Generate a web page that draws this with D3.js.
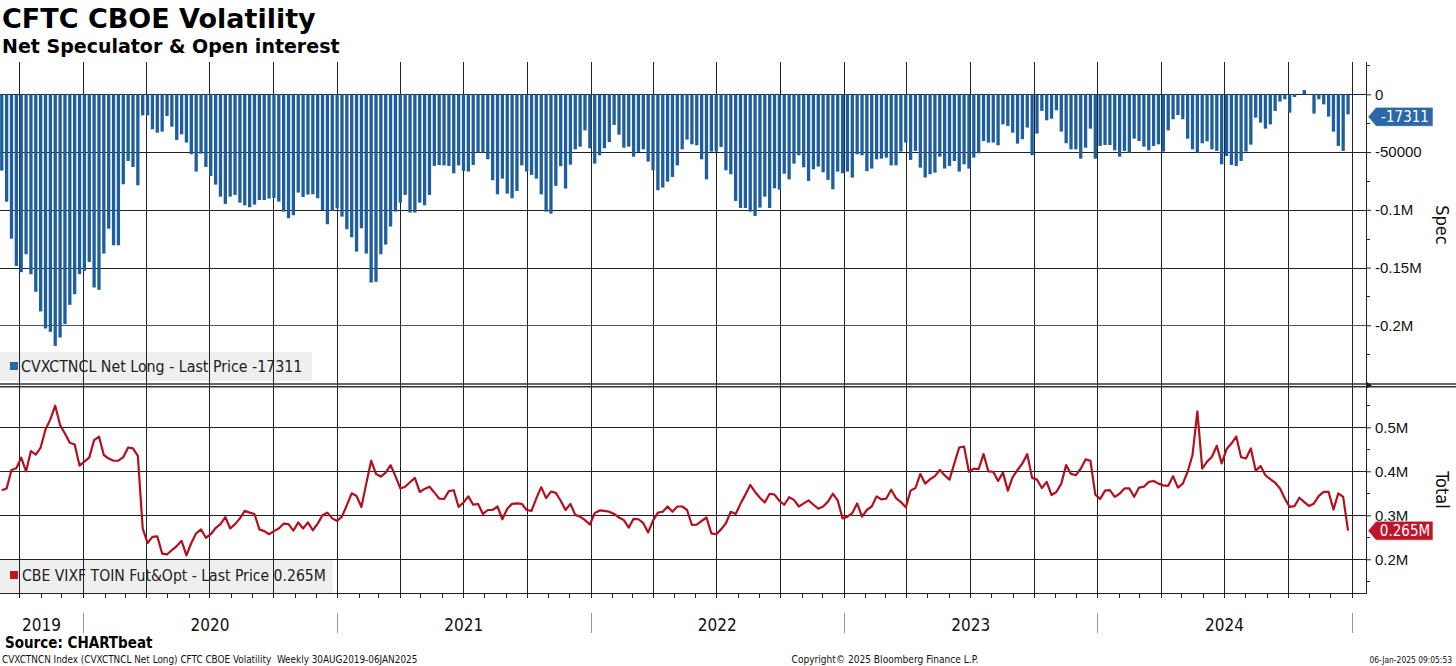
<!DOCTYPE html>
<html>
<head>
<meta charset="utf-8">
<script src="https://cdn.jsdelivr.net/npm/d3@7"></script>
<style>
  body { margin: 0; background: #fff; }
  svg { display: block; font-family: "DejaVu Sans Condensed", "DejaVu Sans", sans-serif; }
</style>
</head>
<body>
<svg id="chart" width="1456" height="666"></svg>
<script>
// weekly observations, first one on 6 Sep 2019
const firstDate = new Date(2019, 8, 6);

// CVXCTNCL net long (contracts)
const specValues = [
  -66000, -93000, -125000, -148600, -154000, -138500, -155800, -171000, -188000, -202800,
  -205700, -217800, -210600, -199000, -182300, -173100, -155800, -152900, -145100, -167300,
  -169300, -137900, -116300, -130700, -130700, -77900, -57700, -62900, -78800, -18200,
  -18200, -30300, -33200, -32300, -18800, -28000, -39500, -34600, -41800, -51900,
  -66900, -51400, -62900, -70700, -78200, -88600, -94900, -88600, -87100, -93800,
  -96100, -97800, -95500, -91500, -91500, -90300, -89700, -92900, -101600, -107300,
  -104700, -85100, -88900, -86800, -86600, -90000, -100100, -112500, -101000, -98700,
  -105900, -116800, -123800, -136200, -116000, -137900, -163000, -162400, -138500, -130100,
  -114500, -101600, -93800, -87100, -102400, -102400, -93800, -96100, -87100, -62000,
  -61200, -61500, -62000, -68400, -61500,
  -66400, -66900, -61200, -50500, -50500, -56300, -74400, -86600, -73000, -86000,
  -90000, -83700, -61500, -66900, -69800, -73000, -86600, -101600, -103300, -79300,
  -62300, -81600, -60900, -47600, -45300, -31200, -46700, -60000, -52800, -46700,
  -41300, -26500, -34900, -46200, -45300, -54000, -49900, -47600, -58300, -65800,
  -83100, -80800, -75600, -71500, -61500, -47600, -39200, -43300, -44100, -56300,
  -73600, -49600, -49600, -45600, -65800, -69200, -92300, -98400, -98400, -101600,
  -105300, -98100, -88600, -98400, -81400, -82500, -68700, -73600, -60000, -52800,
  -63200, -75000, -64900, -62600, -67500, -74100, -82200, -66900, -68400, -66900,
  -72100, -51900, -52800, -66600, -64300, -56300, -55700, -54800, -61500, -61500,
  -49600, -41800, -56800, -49000,
  -63500, -72000, -69200, -67800, -54000, -64300, -62000, -57700, -66900, -60600,
  -64300, -54800, -51100, -40400, -41800, -41800, -44100, -26000, -27400, -33200,
  -42700, -38900, -28800, -52800, -34000, -14400, -22500, -21100, -13800, -32300,
  -42400, -47600, -47600, -55700, -46200, -29700, -55700, -44700, -43900, -43900,
  -48500, -54000, -49000, -50500, -38400, -40400, -45300, -48500, -44700, -43300,
  -49600, -31200, -21600, -17900, -21600, -38400, -47600, -50500, -42400, -40700,
  -47600, -49000, -60600, -53400, -61200, -62000, -57700, -49600, -43600, -20200,
  -24500, -29700, -26000, -14400, -6300, -4300, -15900, -2300, 0, 3700,
  -600, -16700, -4300, -8700, -19300, -32300, -44700, -49000, -17311
];

// CBE VIXF total open interest, futures & options (millions)
const totalValues = [
  0.357, 0.361, 0.403, 0.407, 0.431, 0.400, 0.446, 0.438, 0.454, 0.495,
  0.518, 0.549, 0.505, 0.486, 0.465, 0.461, 0.413, 0.422, 0.431, 0.471,
  0.479, 0.437, 0.429, 0.424, 0.424, 0.432, 0.454, 0.452, 0.435, 0.270,
  0.237, 0.251, 0.252, 0.213, 0.211, 0.221, 0.230, 0.242, 0.209, 0.237,
  0.259, 0.268, 0.249, 0.257, 0.271, 0.280, 0.296, 0.270, 0.280, 0.293,
  0.310, 0.306, 0.303, 0.268, 0.264, 0.257, 0.264, 0.270, 0.281, 0.280,
  0.265, 0.284, 0.270, 0.284, 0.266, 0.281, 0.300, 0.306, 0.293, 0.287,
  0.297, 0.323, 0.350, 0.344, 0.319, 0.372, 0.424, 0.394, 0.388, 0.397,
  0.414, 0.389, 0.361, 0.365, 0.375, 0.385, 0.353, 0.360, 0.365, 0.352,
  0.338, 0.337, 0.355, 0.357, 0.319,
  0.329, 0.343, 0.324, 0.326, 0.303, 0.312, 0.312, 0.320, 0.291, 0.315,
  0.326, 0.327, 0.326, 0.312, 0.310, 0.339, 0.364, 0.339, 0.354, 0.351,
  0.333, 0.312, 0.326, 0.301, 0.297, 0.289, 0.279, 0.305, 0.311, 0.310,
  0.308, 0.303, 0.295, 0.289, 0.272, 0.292, 0.291, 0.282, 0.261, 0.288,
  0.306, 0.308, 0.320, 0.308, 0.320, 0.320, 0.312, 0.278, 0.279, 0.287,
  0.295, 0.259, 0.257, 0.268, 0.282, 0.308, 0.303, 0.326, 0.347, 0.369,
  0.353, 0.340, 0.329, 0.349, 0.347, 0.333, 0.324, 0.341, 0.335, 0.320,
  0.327, 0.334, 0.324, 0.315, 0.320, 0.331, 0.349, 0.334, 0.293, 0.297,
  0.305, 0.327, 0.297, 0.312, 0.320, 0.343, 0.336, 0.338, 0.358, 0.339,
  0.330, 0.318, 0.356, 0.362,
  0.394, 0.372, 0.382, 0.389, 0.403, 0.391, 0.381, 0.418, 0.454, 0.456,
  0.399, 0.406, 0.405, 0.439, 0.400, 0.399, 0.378, 0.397, 0.356, 0.387,
  0.403, 0.418, 0.439, 0.385, 0.381, 0.362, 0.376, 0.346, 0.353, 0.372,
  0.414, 0.394, 0.391, 0.406, 0.427, 0.424, 0.347, 0.337, 0.356, 0.357,
  0.342, 0.349, 0.361, 0.361, 0.342, 0.363, 0.365, 0.376, 0.378, 0.372,
  0.368, 0.367, 0.389, 0.363, 0.372, 0.399, 0.437, 0.536, 0.406, 0.422,
  0.433, 0.458, 0.418, 0.450, 0.463, 0.479, 0.432, 0.429, 0.452, 0.401,
  0.412, 0.391, 0.382, 0.374, 0.361, 0.338, 0.319, 0.321, 0.340, 0.330,
  0.321, 0.327, 0.344, 0.353, 0.353, 0.313, 0.350, 0.342, 0.265
].map((v) => v * 1e6);

const specTicks = [0, -50000, -100000, -150000, -200000];
const specTickLabels = ["0", "-50000", "-0.1M", "-0.15M", "-0.2M"];
const specMinorTicks = [25000, -25000, -75000, -125000, -175000, -225000];
const totalTicks = [500000, 400000, 300000, 200000];
const totalTickLabels = ["0.5M", "0.4M", "0.3M", "0.2M"];
const totalMinorTicks = [550000, 450000, 350000, 250000, 150000];
const years = [2019, 2020, 2021, 2022, 2023, 2024];

const specLegend = "CVXCTNCL Net Long - Last Price -17311";
const totalLegend = "CBE VIXF TOIN Fut&Opt - Last Price 0.265M";
const specLast = "-17311";
const totalLast = "0.265M";

const dates = specValues.map((d, i) => d3.timeDay.offset(firstDate, 7 * i));

const plotLeft = 0;
const plotRight = 1366;
const topY0 = 62, topY1 = 383;
const botY0 = 388, botY1 = 593;

const svg = d3.select("#chart");
svg.append("rect").attr("width", 1456).attr("height", 666).attr("fill", "#fff");

const x = d3.scaleTime()
  .domain([new Date(2020, 0, 1), new Date(2025, 0, 1)])
  .range([83, 1351.5]);
const yS = d3.scaleLinear().domain([-250000, 28000]).range([topY1, topY0]);
const yT = d3.scaleLinear().domain([123400, 589300]).range([botY1, botY0]);

svg.append("clipPath").attr("id", "plotClip")
  .append("rect").attr("x", plotLeft).attr("y", topY0 - 2)
  .attr("width", plotRight - plotLeft).attr("height", botY1 - topY0 + 8);

// legend backgrounds sit behind the grid
svg.append("rect").attr("x", 0).attr("y", 352).attr("width", 312).attr("height", 29).attr("fill", "#efefef");
svg.append("rect").attr("x", 0).attr("y", 560).attr("width", 333).attr("height", 33).attr("fill", "#efefef");

const grid = svg.append("g").attr("clip-path", "url(#plotClip)")
  .attr("stroke", "#222").attr("stroke-width", 1).attr("shape-rendering", "crispEdges");

const quarters = d3.timeMonth.every(3).range(new Date(2019, 6, 1), new Date(2025, 0, 2));
grid.selectAll(".vq").data(quarters).join("line")
  .attr("x1", (d) => Math.round(x(d)) + 0.5).attr("x2", (d) => Math.round(x(d)) + 0.5)
  .attr("y1", topY0).attr("y2", botY1 + 5);

grid.selectAll(".hs").data(specTicks).join("line")
  .attr("x1", plotLeft).attr("x2", plotRight)
  .attr("y1", (d) => Math.round(yS(d)) + 0.5).attr("y2", (d) => Math.round(yS(d)) + 0.5)
  .attr("stroke", (d) => (d === -200000 ? "#555" : "#222"));

grid.selectAll(".ht").data(totalTicks).join("line")
  .attr("x1", plotLeft).attr("x2", plotRight)
  .attr("y1", (d) => Math.round(yT(d)) + 0.5).attr("y2", (d) => Math.round(yT(d)) + 0.5);

// bars
const barW = 3.3;
svg.append("g").attr("clip-path", "url(#plotClip)")
  .selectAll("rect").data(specValues).join("rect")
  .attr("x", (d, i) => x(dates[i]) - barW / 2)
  .attr("width", barW)
  .attr("y", (d) => yS(Math.max(0, d)))
  .attr("height", (d) => Math.abs(yS(d) - yS(0)))
  .attr("fill", "#1f5e9e");

// line
const line = d3.line()
  .x((d, i) => x(dates[i]))
  .y((d) => yT(d));
svg.append("path").attr("clip-path", "url(#plotClip)")
  .datum(totalValues)
  .attr("d", line)
  .attr("fill", "none")
  .attr("stroke", "#b3101f")
  .attr("stroke-width", 2.2)
  .attr("stroke-linejoin", "round");

// panel separator
svg.append("line").attr("x1", 0).attr("x2", 1456).attr("y1", 384).attr("y2", 384)
  .attr("stroke", "#333").attr("stroke-width", 1.5);
svg.append("line").attr("x1", 0).attr("x2", 1456).attr("y1", 386.8).attr("y2", 386.8)
  .attr("stroke", "#333").attr("stroke-width", 1.5);
svg.append("path").attr("d", "M1366,381.5 L1372,385.3 L1366,389 Z").attr("fill", "#222");

// bottom axis line + monthly ticks
svg.append("line").attr("x1", 0).attr("x2", plotRight).attr("y1", botY1 + 0.5).attr("y2", botY1 + 0.5)
  .attr("stroke", "#222").attr("shape-rendering", "crispEdges");
const months = d3.timeMonth.range(new Date(2019, 8, 1), new Date(2025, 0, 2));
svg.append("g").attr("clip-path", "url(#plotClip)")
  .selectAll("line").data(months).join("line")
  .attr("x1", (d) => Math.round(x(d)) + 0.5).attr("x2", (d) => Math.round(x(d)) + 0.5)
  .attr("y1", botY1).attr("y2", botY1 + 5)
  .attr("stroke", "#222").attr("shape-rendering", "crispEdges");

// right axis
svg.append("line").attr("x1", plotRight + 0.5).attr("x2", plotRight + 0.5)
  .attr("y1", topY0).attr("y2", botY1 + 1)
  .attr("stroke", "#222").attr("shape-rendering", "crispEdges");

function rightAxis(scale, ticks, labels, minor) {
  const g = svg.append("g").attr("transform", `translate(${plotRight},0)`);
  g.call(d3.axisRight(scale).tickValues(ticks)
    .tickFormat((d, i) => labels[i]).tickSize(5).tickPadding(4));
  g.select(".domain").remove();
  g.selectAll("text").attr("font-size", 15).attr("font-family", null).attr("fill", "#111");
  g.selectAll(".tick line").attr("stroke", "#222");
  g.selectAll(".minor").data(minor).join("line")
    .attr("x1", 0).attr("x2", 4)
    .attr("y1", (d) => Math.round(scale(d)) + 0.5).attr("y2", (d) => Math.round(scale(d)) + 0.5)
    .attr("stroke", "#222");
  return g;
}
rightAxis(yS, specTicks, specTickLabels, specMinorTicks);
rightAxis(yT, totalTicks, totalTickLabels, totalMinorTicks);

// axis titles
svg.append("text").attr("transform", "translate(1436,225) rotate(90)")
  .attr("text-anchor", "middle").attr("font-size", 18).attr("fill", "#111").text("Spec");
svg.append("text").attr("transform", "translate(1436,490) rotate(90)")
  .attr("text-anchor", "middle").attr("font-size", 18).attr("fill", "#111").text("Total");

// last value tags
function tag(yPos, label, color) {
  const x0 = plotRight + 2;
  const h = 9.5;
  svg.append("path")
    .attr("d", `M${x0},${yPos} L${x0 + 8},${yPos - h} L${x0 + 65},${yPos - h} L${x0 + 65},${yPos + h} L${x0 + 8},${yPos + h} Z`)
    .attr("fill", color).attr("stroke", "#fff").attr("stroke-width", 0.6);
  svg.append("text").attr("x", x0 + 37).attr("y", yPos + 5.5)
    .attr("text-anchor", "middle").attr("font-size", 15).attr("fill", "#fff").text(label);
}
tag(yS(specValues[specValues.length - 1]) + 2.5, specLast, "#2c67a6");
tag(yT(totalValues[totalValues.length - 1]), totalLast, "#c0142a");

// legends
svg.append("rect").attr("x", 10).attr("y", 362).attr("width", 8).attr("height", 8).attr("fill", "#2c67a6");
svg.append("text").attr("x", 21).attr("y", 372).attr("font-size", 15.8).attr("fill", "#222").text(specLegend);
svg.append("rect").attr("x", 10).attr("y", 571).attr("width", 8).attr("height", 8).attr("fill", "#c0142a");
svg.append("text").attr("x", 22).attr("y", 581).attr("font-size", 15.6).attr("fill", "#222").text(totalLegend);

// year separators and labels
const yearStarts = d3.range(2020, 2026).map((y) => new Date(y, 0, 1));
svg.selectAll(".ysep").data(yearStarts).join("line")
  .attr("x1", (d) => Math.round(x(d)) + 0.5).attr("x2", (d) => Math.round(x(d)) + 0.5)
  .attr("y1", 613).attr("y2", 633)
  .attr("stroke", "#999").attr("shape-rendering", "crispEdges");
svg.selectAll(".ylab").data(years).join("text")
  .attr("x", (y) => (Math.max(plotLeft, x(new Date(y, 0, 1))) + Math.min(plotRight, x(new Date(y + 1, 0, 1)))) / 2)
  .attr("y", 631)
  .attr("text-anchor", "middle").attr("font-size", 17).attr("fill", "#111")
  .text((y) => y);

// titles
svg.append("text").attr("x", 2).attr("y", 28).attr("font-size", 27).attr("font-weight", "bold")
  .attr("font-family", "'DejaVu Sans', sans-serif")
  .attr("fill", "#000").text("CFTC CBOE Volatility");
svg.append("text").attr("x", 2).attr("y", 53).attr("font-size", 19).attr("font-weight", "bold")
  .attr("font-family", "'DejaVu Sans', sans-serif")
  .attr("fill", "#000").text("Net Speculator & Open interest");

// footer
svg.append("text").attr("x", 5).attr("y", 648).attr("font-size", 15).attr("font-weight", "bold")
  .attr("fill", "#000").text("Source: CHARTbeat");
svg.append("text").attr("x", 2).attr("y", 663).attr("font-size", 9.9).attr("fill", "#111")
  .style("white-space", "pre")
  .text("CVXCTNCN Index (CVXCTNCL Net Long) CFTC CBOE Volatility  Weekly 30AUG2019-06JAN2025");
svg.append("text").attr("x", 885).attr("y", 663).attr("font-size", 10.1).attr("fill", "#111")
  .attr("text-anchor", "middle").text("Copyright\u00A9 2025 Bloomberg Finance L.P.");
svg.append("text").attr("x", 1452).attr("y", 663).attr("font-size", 8.4).attr("fill", "#111")
  .attr("text-anchor", "end").text("06-Jan-2025 09:05:53");
</script>
</body>
</html>
